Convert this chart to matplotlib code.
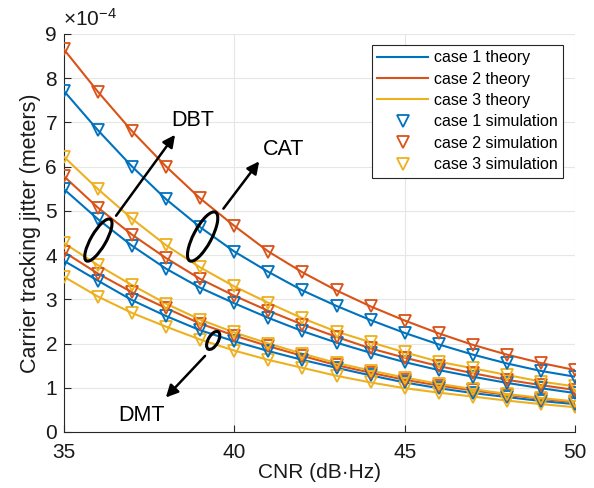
import numpy as np
import matplotlib
matplotlib.use("Agg")
import matplotlib.pyplot as plt
from matplotlib.patches import Ellipse
from matplotlib.transforms import ScaledTranslation
from matplotlib.lines import Line2D

plt.rcParams['font.family'] = ['Liberation Sans', 'DejaVu Sans']
plt.rcParams['mathtext.fontset'] = 'custom'
plt.rcParams['mathtext.rm'] = 'Liberation Sans'
plt.rcParams['mathtext.it'] = 'Liberation Sans:italic'

# CNR values (dB-Hz)
cnr = np.arange(35, 51)

# Carrier tracking jitter, in units of 1e-4 m
top_case2 = [8.65, 7.69, 6.80, 6.00, 5.28, 4.66, 4.08, 3.61, 3.20, 2.84, 2.52, 2.23, 1.97, 1.75, 1.56, 1.40]
top_case1 = [7.71, 6.82, 6.00, 5.26, 4.63, 4.08, 3.62, 3.20, 2.85, 2.53, 2.24, 1.98, 1.75, 1.55, 1.38, 1.25]
mid_case3 = [6.22, 5.49, 4.82, 4.22, 3.72, 3.29, 2.92, 2.57, 2.27, 2.03, 1.80, 1.59, 1.44, 1.29, 1.14, 1.03]
mid_case2 = [5.78, 5.07, 4.46, 3.93, 3.46, 3.08, 2.74, 2.43, 2.15, 1.89, 1.68, 1.49, 1.33, 1.18, 1.06, 0.95]
mid_case1 = [5.49, 4.81, 4.21, 3.69, 3.26, 2.91, 2.58, 2.28, 2.02, 1.79, 1.58, 1.40, 1.25, 1.11, 0.99, 0.88]
low_case3a = [4.27, 3.77, 3.32, 2.90, 2.54, 2.25, 2.00, 1.77, 1.56, 1.39, 1.23, 1.09, 0.97, 0.86, 0.77, 0.69]
low_case2 = [4.07, 3.58, 3.16, 2.80, 2.45, 2.18, 1.94, 1.72, 1.51, 1.34, 1.18, 1.05, 0.94, 0.84, 0.75, 0.67]
low_case1 = [3.87, 3.42, 2.98, 2.62, 2.30, 2.05, 1.83, 1.63, 1.45, 1.28, 1.12, 0.99, 0.88, 0.79, 0.70, 0.63]
low_case3b = [3.51, 3.06, 2.69, 2.38, 2.09, 1.84, 1.63, 1.45, 1.27, 1.12, 0.99, 0.89, 0.80, 0.71, 0.63, 0.56]

xticks = [35, 40, 45, 50]
yticks = list(range(0, 10))
legend_labels = ['case 1 theory', 'case 2 theory', 'case 3 theory',
                 'case 1 simulation', 'case 2 simulation', 'case 3 simulation']

C1, C2, C3 = '#0072BD', '#D95319', '#EDB120'

series = [
    (low_case3b, C3), (low_case1, C1), (low_case2, C2), (low_case3a, C3),
    (mid_case1, C1), (mid_case2, C2), (mid_case3, C3),
    (top_case1, C1), (top_case2, C2),
]

fig = plt.figure(figsize=(5.94, 4.88), dpi=100)
ax = fig.add_axes([0.1077, 0.1148, 0.8603, 0.8156])

for vals, col in series:
    ax.plot(cnr, vals, '-', color=col, lw=1.5, zorder=3)
    ax.plot(cnr, vals, 'v', ls='none', mfc='none', mec=col, mew=1.3, ms=8.5, zorder=4)

ax.set_xlim(35, 50)
ax.set_ylim(0, 9)
ax.set_xticks(xticks)
ax.set_yticks(yticks)
ax.grid(True, color='#e6e6e6', lw=0.8, zorder=0)
ax.set_axisbelow(True)
for s in ['top', 'right']:
    ax.spines[s].set_visible(False)
for s in ['left', 'bottom']:
    ax.spines[s].set_color('#262626')
    ax.spines[s].set_linewidth(0.8)
ax.tick_params(direction='in', length=5, width=0.8, color='#262626', labelsize=15, labelcolor='#1a1a1a')
ax.tick_params(axis='x', pad=8)
ax.tick_params(axis='y', pad=5)
ax.set_xlabel('CNR (dB·Hz)', fontsize=15, color='#1a1a1a', labelpad=1)
ax.set_ylabel('Carrier tracking jitter (meters)', fontsize=15.5, color='#1a1a1a', labelpad=3)
ax.text(-0.002, 1.01, r'$\times10^{-4}$', transform=ax.transAxes, fontsize=15, color='#1a1a1a',
        ha='left', va='bottom')

handles = [Line2D([], [], color=C1, lw=1.5), Line2D([], [], color=C2, lw=1.5), Line2D([], [], color=C3, lw=1.5),
           Line2D([], [], ls='none', marker='v', mfc='none', mec=C1, mew=1.3, ms=8.5),
           Line2D([], [], ls='none', marker='v', mfc='none', mec=C2, mew=1.3, ms=8.5),
           Line2D([], [], ls='none', marker='v', mfc='none', mec=C3, mew=1.3, ms=8.5)]
leg = ax.legend(handles, legend_labels, loc='upper right', bbox_to_anchor=(0.977, 0.973),
                borderaxespad=0, fontsize=11.5, handlelength=3.2, handletextpad=0.35,
                labelspacing=0.4, borderpad=0.35, fancybox=False, framealpha=1)
leg.get_frame().set_edgecolor('#262626')
leg.get_frame().set_linewidth(0.8)

def ell(cx, cy, w_px, h_px, ang):
    tr = fig.dpi_scale_trans + ScaledTranslation(cx, cy, ax.transData)
    e = Ellipse((0, 0), w_px / 100, h_px / 100, angle=ang, transform=tr,
                fill=False, ec='black', lw=2.2, zorder=6)
    ax.add_patch(e)

ell(36.01, 4.34, 48, 15, 60)
ell(39.07, 4.42, 55, 18, 62)
ell(39.38, 2.07, 20, 10, 60)

arrow = dict(arrowstyle='-|>', color='black', lw=1.8, mutation_scale=18, shrinkA=0, shrinkB=0)
ax.annotate('', xy=(38.26, 6.72), xytext=(36.53, 4.89), arrowprops=arrow, zorder=6)
ax.annotate('', xy=(40.73, 6.12), xytext=(39.68, 5.05), arrowprops=arrow, zorder=6)
ax.annotate('', xy=(37.99, 0.78), xytext=(39.14, 1.72), arrowprops=arrow, zorder=6)

ax.text(38.79, 7.04, 'DBT', fontsize=15.5, ha='center', va='center', zorder=6)
ax.text(41.46, 6.38, 'CAT', fontsize=15.5, ha='center', va='center', zorder=6)
ax.text(37.28, 0.38, 'DMT', fontsize=15.5, ha='center', va='center', zorder=6)

fig.savefig('out.png', dpi=100)
